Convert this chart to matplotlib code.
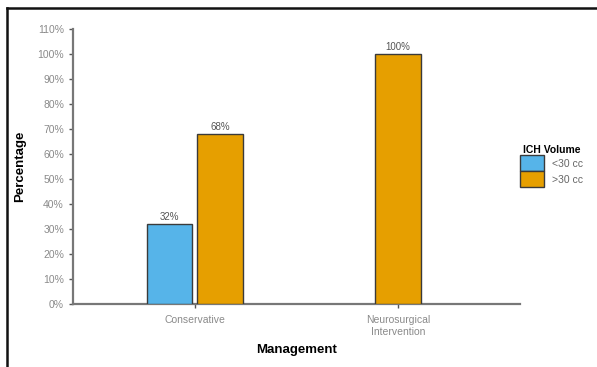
import matplotlib
matplotlib.use("Agg")
import matplotlib.pyplot as plt
from matplotlib.lines import Line2D
from matplotlib.patches import Patch
import numpy as np

plt.rcParams["font.family"] = ["Liberation Sans", "DejaVu Sans"]

categories = ["Conservative", "Neurosurgical\nIntervention"]
groups = ["<30 cc", ">30 cc"]
small_vals = [32, None]     # <30 cc
large_vals = [68, 100]      # >30 cc
colors = ["#56B4E9", "#E69F00"]

fig = plt.figure(figsize=(5.97, 3.67), dpi=100)
ax = fig.add_axes([73 / 597, 1 - 304 / 367, (520 - 73) / 597, (304 - 29) / 367])

width = 0.225
offset = 0.125
x = np.arange(len(categories))
for i in range(len(categories)):
    series = [small_vals[i], large_vals[i]]
    present = [(j, v) for j, v in enumerate(series) if v is not None]
    n = len(present)
    for k, (j, v) in enumerate(present):
        # a lone bar sits on the tick, a pair is dodged around it
        pos = x[i] + (0 if n == 1 else (-offset if k == 0 else offset))
        ax.bar(pos, v, width=width, color=colors[j], edgecolor="#3a3a3a",
               linewidth=1.0, zorder=3)
        ax.text(pos, v + 0.8, f"{v}%", ha="center", va="bottom",
                fontsize=7, color="#555555")

ax.set_xlim(-0.6, 1.6)
ax.set_ylim(0, 110)
ax.set_yticks(np.arange(0, 111, 10))
ax.set_yticklabels([f"{t}%" for t in range(0, 111, 10)])
ax.set_xticks(x)
ax.set_xticklabels(categories)

for s in ("top", "right"):
    ax.spines[s].set_visible(False)
for s in ("left", "bottom"):
    ax.spines[s].set_color("#777777")
    ax.spines[s].set_linewidth(1.6)
ax.tick_params(axis="both", colors="#555555", length=3, width=1,
               labelsize=7.5, labelcolor="#8a8a8a")
ax.tick_params(axis="x", pad=5)

ax.set_ylabel("Percentage", fontsize=9.5, fontweight="bold", labelpad=8)
ax.set_xlabel("Management", fontsize=9.5, fontweight="bold", labelpad=5)

handles = [Patch(facecolor=c, edgecolor="#3a3a3a", linewidth=1.0) for c in colors]
leg = fig.legend(handles, groups, title="ICH Volume", loc="upper left",
                 bbox_to_anchor=(513 / 597, 1 - 138 / 367), frameon=False,
                 fontsize=7.5, title_fontproperties={"weight": "bold", "size": 7.5},
                 handlelength=2.3, handleheight=2.0, handletextpad=0.7,
                 labelspacing=0.0, borderpad=0.2)
for t in leg.get_texts():
    t.set_color("#666666")

# outer frame (top and left edges)
fig.add_artist(Line2D([7 / 597, 1.0], [1 - 8 / 367, 1 - 8 / 367],
                      transform=fig.transFigure, color="#111111", linewidth=1.8))
fig.add_artist(Line2D([7 / 597, 7 / 597], [0.0, 1 - 8 / 367],
                      transform=fig.transFigure, color="#111111", linewidth=1.8))

fig.savefig("out.png", dpi=100)
